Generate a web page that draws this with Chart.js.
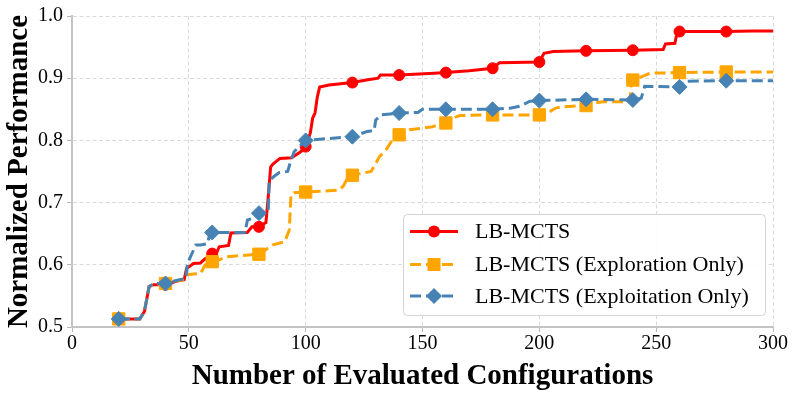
<!DOCTYPE html>
<html lang="en">

<head>
  <meta charset="UTF-8">
  <title>LB-MCTS Ablation</title>
  <script src="https://cdn.jsdelivr.net/npm/chart.js"></script>
  <style>
    html, body { margin: 0; padding: 0; background: #fff; }
  </style>
</head>

<body>

  <canvas id="perfChart" width="798" height="394"></canvas>

  <script>
    // Values, [configurations, normalized performance]
    const seriesNames = ['LB-MCTS', 'LB-MCTS (Exploration Only)', 'LB-MCTS (Exploitation Only)'];
    const markerX = [20, 40, 60, 80, 100, 120, 140, 160, 180, 200, 220, 240, 260, 280];

    const lbMcts = [
      [20, 0.513], [29, 0.513], [31, 0.525], [33, 0.565], [35, 0.568], [40, 0.568], [45, 0.574],
      [48, 0.576], [49, 0.594], [52, 0.602], [55, 0.603], [57, 0.61], [59, 0.612], [60, 0.618],
      [62, 0.62], [63, 0.629], [67, 0.631], [68, 0.651], [75, 0.652], [77, 0.661], [80, 0.661],
      [83, 0.668], [84, 0.71], [85, 0.757], [86, 0.762], [89, 0.771], [94, 0.772], [98, 0.782],
      [100, 0.79], [102, 0.812], [103, 0.836], [104, 0.844], [105, 0.87], [106, 0.886], [110, 0.889],
      [120, 0.893], [126, 0.897], [131, 0.9], [132, 0.905], [140, 0.905], [155, 0.908], [160, 0.909],
      [170, 0.912], [180, 0.916], [182, 0.922], [183, 0.925], [200, 0.926], [202, 0.94], [206, 0.943],
      [220, 0.944], [240, 0.945], [253, 0.946], [254, 0.955], [258, 0.956], [259, 0.974], [260, 0.975],
      [280, 0.975], [291, 0.976], [300, 0.976]
    ];

    const explorationOnly = [
      [20, 0.513], [29, 0.513], [31, 0.525], [33, 0.565], [35, 0.568], [40, 0.57], [44, 0.574],
      [48, 0.576], [49, 0.584], [55, 0.586], [57, 0.6], [60, 0.605], [63, 0.608], [66, 0.613],
      [80, 0.617], [84, 0.627], [86, 0.632], [91, 0.637], [93, 0.656], [93.7, 0.712], [95, 0.716],
      [100, 0.717], [114, 0.72], [116, 0.726], [118.6, 0.744], [120, 0.744], [128, 0.75], [130, 0.763],
      [131.6, 0.774], [134.4, 0.785], [136.6, 0.798], [139.5, 0.809], [140, 0.809], [144.4, 0.817],
      [149, 0.819], [154.3, 0.822], [158.6, 0.8275], [160, 0.828], [164.4, 0.838], [166, 0.84],
      [180, 0.841], [200, 0.841], [203, 0.843], [207, 0.852], [210, 0.854], [220, 0.856],
      [223.7, 0.86], [227, 0.862], [238.7, 0.862], [239.4, 0.897], [240, 0.897], [243.6, 0.902],
      [247.3, 0.908], [260, 0.909], [280, 0.91], [300, 0.91]
    ];

    const exploitationOnly = [
      [20, 0.513], [29, 0.513], [31, 0.525], [33, 0.565], [35, 0.57], [40, 0.57], [46, 0.576],
      [48.7, 0.578], [49.4, 0.602], [50, 0.607], [53, 0.632], [55, 0.632], [58, 0.634], [59, 0.651],
      [60, 0.652], [74, 0.652], [75.1, 0.672], [77.6, 0.675], [80, 0.683], [84, 0.686], [84.4, 0.736],
      [86.4, 0.742], [88.6, 0.748], [92.3, 0.75], [93.7, 0.768], [95.1, 0.782], [97.3, 0.79],
      [100, 0.8], [120, 0.806], [126, 0.814], [129.3, 0.816], [130, 0.833], [132.3, 0.841],
      [140, 0.844], [148, 0.845], [150, 0.85], [160, 0.85], [180, 0.85], [188, 0.852], [191.6, 0.855],
      [196, 0.863], [200, 0.864], [220, 0.866], [240, 0.865], [243.6, 0.868], [245.1, 0.887],
      [260, 0.886], [262, 0.895], [280, 0.896], [300, 0.896]
    ];

    const SERIF = "'Liberation Serif', 'Times New Roman', serif";
    const colors = ['#ff0000', '#ffa500', '#4682b4'];
    const dashes = [[], [11, 5], [11, 5]];
    const styles = ['circle', 'rect', 'rectRot'];
    const radii = [5.5, 8.7, 7.5];

    function toPoints(pairs) {
      return pairs.map(p => ({ x: p[0], y: p[1] }));
    }

    function makeDataset(i, pairs) {
      return {
        label: seriesNames[i],
        data: toPoints(pairs),
        borderColor: colors[i],
        backgroundColor: colors[i],
        borderWidth: 3,
        borderDash: dashes[i],
        fill: false,
        tension: 0,
        order: 3 - i,
        pointStyle: styles[i],
        pointBackgroundColor: colors[i],
        pointBorderColor: colors[i],
        pointBorderWidth: 1,
        pointRadius: ctx => (ctx.raw && markerX.includes(ctx.raw.x)) ? radii[i] : 0,
        pointHoverRadius: ctx => (ctx.raw && markerX.includes(ctx.raw.x)) ? radii[i] : 0
      };
    }

    // legend box drawn inside the plot, lower right
    const insideLegend = {
      id: 'insideLegend',
      afterDraw(chart) {
        const ctx = chart.ctx;
        const bx = 403.5, by = 214.5, bw = 362, bh = 101, r = 4;
        ctx.save();
        ctx.beginPath();
        ctx.moveTo(bx + r, by);
        ctx.arcTo(bx + bw, by, bx + bw, by + bh, r);
        ctx.arcTo(bx + bw, by + bh, bx, by + bh, r);
        ctx.arcTo(bx, by + bh, bx, by, r);
        ctx.arcTo(bx, by, bx + bw, by, r);
        ctx.closePath();
        ctx.fillStyle = 'rgba(255,255,255,0.9)';
        ctx.fill();
        ctx.lineWidth = 1;
        ctx.strokeStyle = '#d4d4d4';
        ctx.stroke();

        const rows = [231.5, 264.5, 296];
        for (let i = 0; i < 3; i++) {
          const y = rows[i];
          ctx.beginPath();
          ctx.setLineDash(dashes[i]);
          ctx.lineWidth = 3;
          ctx.strokeStyle = colors[i];
          ctx.moveTo(410, y);
          ctx.lineTo(458, y);
          ctx.stroke();
          ctx.setLineDash([]);
          ctx.fillStyle = colors[i];
          ctx.beginPath();
          const cx = 434;
          if (styles[i] === 'circle') {
            ctx.arc(cx, y, 6, 0, Math.PI * 2);
          } else if (styles[i] === 'rect') {
            ctx.rect(cx - 6.5, y - 6.5, 13, 13);
          } else {
            ctx.moveTo(cx - 8, y);
            ctx.lineTo(cx, y - 8);
            ctx.lineTo(cx + 8, y);
            ctx.lineTo(cx, y + 8);
            ctx.closePath();
          }
          ctx.fill();

          ctx.font = '22px ' + SERIF;
          ctx.fillStyle = '#000';
          ctx.textBaseline = 'middle';
          ctx.textAlign = 'left';
          ctx.fillText(seriesNames[i], 475, y + 1);
        }
        ctx.restore();
      }
    };

    window.onload = function () {
      const ctx = document.getElementById('perfChart').getContext('2d');

      new Chart(ctx, {
        type: 'line',
        data: {
          datasets: [
            makeDataset(0, lbMcts),
            makeDataset(1, explorationOnly),
            makeDataset(2, exploitationOnly)
          ]
        },
        options: {
          responsive: false,
          animation: false,
          devicePixelRatio: 1,
          layout: { padding: { left: 0, right: 25, top: 15, bottom: 0 } },
          plugins: {
            legend: { display: false },
            tooltip: { enabled: false }
          },
          scales: {
            x: {
              type: 'linear',
              min: 0,
              max: 300,
              afterFit: s => { s.height = 67; },
              ticks: {
                stepSize: 50,
                color: '#000',
                padding: 0,
                font: { family: SERIF, size: 20 }
              },
              grid: {
                color: '#dadada',
                tickColor: '#b8b8b8',
                tickLength: 5,
                tickWidth: 1
              },
              border: { color: '#c4c4c4', width: 2, dash: [4, 2.5] },
              title: {
                display: true,
                text: 'Number of Evaluated Configurations',
                color: '#000',
                padding: { top: 0, bottom: 0 },
                font: { family: SERIF, size: 29, weight: 'bold' }
              }
            },
            y: {
              min: 0.5,
              max: 1.0,
              afterFit: s => { s.width = 72; },
              ticks: {
                stepSize: 0.1,
                color: '#000',
                padding: 4,
                callback: v => v.toFixed(1),
                font: { family: SERIF, size: 20 }
              },
              grid: {
                color: '#dadada',
                tickColor: '#b8b8b8',
                tickLength: 5,
                tickWidth: 1
              },
              border: { color: '#c4c4c4', width: 2, dash: [4, 2.5] },
              title: {
                display: true,
                text: 'Normalized Performance',
                color: '#000',
                padding: { top: 2, bottom: 0 },
                font: { family: SERIF, size: 29, weight: 'bold' }
              }
            }
          }
        },
        plugins: [insideLegend]
      });
    };
  </script>

</body>

</html>
